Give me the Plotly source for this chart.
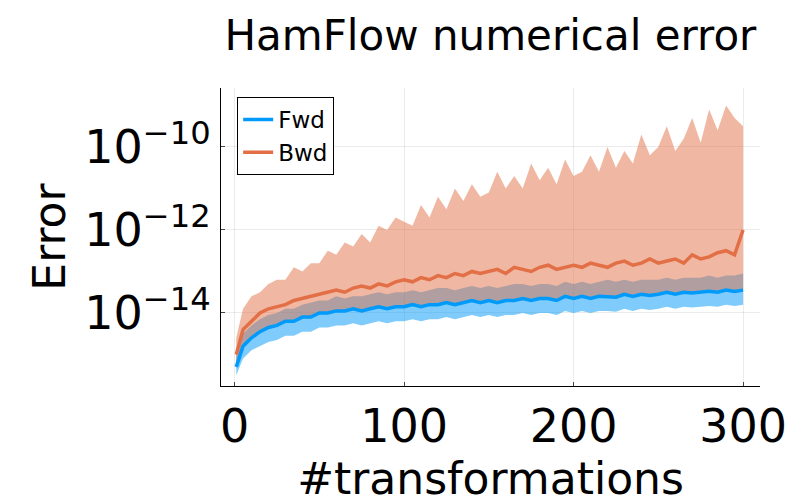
import plotly.graph_objects as go

# number of transformations (sampled)
steps = [1] + list(range(5, 301, 5))

# log10 of error
fwd_mid = [-15.3, -14.8, -14.6, -14.45, -14.35, -14.3, -14.2, -14.2, -14.1, -14.1, -14.0, -14.0, -13.95, -13.95, -13.9, -13.95,
           -13.9, -13.85, -13.9, -13.85, -13.85, -13.8, -13.85, -13.8, -13.8, -13.75, -13.8, -13.75, -13.7, -13.75, -13.7,
           -13.75, -13.7, -13.7, -13.65, -13.7, -13.65, -13.65, -13.7, -13.6, -13.65, -13.6, -13.65, -13.6, -13.6, -13.62,
           -13.55, -13.6, -13.55, -13.58, -13.55, -13.5, -13.55, -13.5, -13.52, -13.5, -13.48, -13.5, -13.45, -13.48, -13.45]
fwd_low = [-15.5, -15.1, -14.9, -14.8, -14.7, -14.65, -14.55, -14.55, -14.45, -14.45, -14.35, -14.35, -14.3, -14.3, -14.25,
           -14.3, -14.25, -14.2, -14.25, -14.2, -14.2, -14.15, -14.2, -14.15, -14.15, -14.1, -14.15, -14.1, -14.05, -14.1,
           -14.05, -14.1, -14.05, -14.05, -14.0, -14.05, -14.0, -14.0, -14.05, -13.95, -14.0, -13.95, -14.0, -13.95, -13.95,
           -13.97, -13.9, -13.95, -13.9, -13.93, -13.9, -13.85, -13.9, -13.85, -13.87, -13.85, -13.83, -13.85, -13.8, -13.83, -13.8]
fwd_high = [-15.0, -14.5, -14.3, -14.15, -14.05, -14.0, -13.9, -13.9, -13.8, -13.75, -13.7, -13.7, -13.6, -13.65, -13.6,
            -13.6, -13.55, -13.5, -13.55, -13.5, -13.5, -13.45, -13.5, -13.45, -13.4, -13.4, -13.45, -13.4, -13.35, -13.4,
            -13.35, -13.4, -13.35, -13.3, -13.3, -13.35, -13.3, -13.3, -13.35, -13.25, -13.3, -13.25, -13.3, -13.25, -13.2,
            -13.25, -13.2, -13.25, -13.2, -13.2, -13.2, -13.15, -13.2, -13.15, -13.15, -13.15, -13.1, -13.15, -13.1, -13.1, -13.05]

bwd_mid = [-15.0, -14.4, -14.2, -14.0, -13.9, -13.85, -13.8, -13.7, -13.65, -13.6, -13.55, -13.5, -13.45, -13.5, -13.4,
           -13.35, -13.4, -13.3, -13.35, -13.25, -13.2, -13.25, -13.15, -13.2, -13.1, -13.15, -13.05, -13.1, -13.0, -13.05,
           -13.0, -12.95, -13.05, -12.9, -12.95, -13.0, -12.9, -12.85, -12.95, -12.9, -12.85, -12.9, -12.8, -12.85, -12.9,
           -12.8, -12.75, -12.85, -12.8, -12.7, -12.8, -12.75, -12.7, -12.8, -12.6, -12.7, -12.65, -12.55, -12.5, -12.6, -12.0]
bwd_low = [-15.2, -14.8, -14.6, -14.45, -14.35, -14.3, -14.2, -14.2, -14.1, -14.1, -14.0, -14.0, -13.95, -13.95, -13.9,
           -13.95, -13.9, -13.85, -13.9, -13.85, -13.85, -13.8, -13.85, -13.8, -13.8, -13.75, -13.8, -13.75, -13.7, -13.75,
           -13.7, -13.75, -13.7, -13.7, -13.65, -13.7, -13.65, -13.65, -13.7, -13.6, -13.65, -13.6, -13.65, -13.6, -13.6,
           -13.62, -13.55, -13.6, -13.55, -13.58, -13.55, -13.5, -13.55, -13.5, -13.52, -13.5, -13.48, -13.5, -13.45, -13.48, -13.45]
bwd_high = [-14.6, -13.9, -13.6, -13.5, -13.3, -13.2, -13.2, -12.9, -13.0, -12.8, -12.8, -12.5, -12.6, -12.3, -12.4, -12.1,
            -12.3, -11.9, -12.0, -11.7, -11.8, -11.9, -11.4, -11.7, -11.2, -11.5, -11.0, -11.3, -10.9, -11.2, -11.1, -10.6,
            -11.0, -10.7, -11.0, -10.4, -10.8, -10.5, -10.9, -10.3, -10.7, -10.6, -10.2, -10.6, -10.0, -10.5, -10.1, -10.4,
            -9.7, -10.2, -10.0, -9.5, -10.1, -9.8, -9.3, -9.9, -9.1, -9.6, -9.0, -9.3, -9.5]

series = [
    ("Fwd", "#009AFA", "rgba(0,154,250,0.5)", fwd_low, fwd_high, fwd_mid),
    ("Bwd", "#E26F46", "rgba(226,111,70,0.5)", bwd_low, bwd_high, bwd_mid),
]

fig = go.Figure()
for name, col, fillcol, low, high, mid in series:
    fig.add_trace(go.Scatter(x=steps, y=[10 ** v for v in low], mode="lines", line=dict(width=0),
                             showlegend=False, hoverinfo="skip"))
    fig.add_trace(go.Scatter(x=steps, y=[10 ** v for v in high], mode="lines", line=dict(width=0),
                             fill="tonexty", fillcolor=fillcol, showlegend=False, hoverinfo="skip"))
for name, col, fillcol, low, high, mid in series:
    fig.add_trace(go.Scatter(x=steps, y=[10 ** v for v in mid], mode="lines", name=name,
                             line=dict(color=col, width=3.5)))

font = "DejaVu Sans"
fig.update_layout(
    width=800, height=500, plot_bgcolor="white", paper_bgcolor="white",
    font=dict(family=font, color="black"),
    margin=dict(l=213, r=48, t=80, b=122),
    title=dict(text="HamFlow numerical error", x=0.603, xanchor="center", y=0.945, yanchor="middle",
               font=dict(size=42)),
    legend=dict(x=0.03, y=0.97, xanchor="left", yanchor="top", bordercolor="black", borderwidth=1,
                font=dict(size=23), bgcolor="white", traceorder="normal", tracegroupgap=0),
    xaxis=dict(title=dict(text="#transformations", font=dict(size=44), standoff=6),
               range=[-8, 310], tickvals=[0, 100, 200, 300], tickfont=dict(size=46),
               showline=True, linecolor="black", ticks="inside", ticklen=4,
               showgrid=True, gridcolor="rgba(0,0,0,0.08)", zeroline=False),
    yaxis=dict(title=dict(text="Error", font=dict(size=44), standoff=4), type="log",
               range=[-15.76, -8.58], tickvals=[1e-14, 1e-12, 1e-10],
               ticktext=["10<sup>−14</sup>", "10<sup>−12</sup>", "10<sup>−10</sup>"], tickfont=dict(size=46),
               showline=True, linecolor="black", ticks="inside", ticklen=4,
               showgrid=True, gridcolor="rgba(0,0,0,0.08)", zeroline=False),
)

fig.write_html("out.html")
